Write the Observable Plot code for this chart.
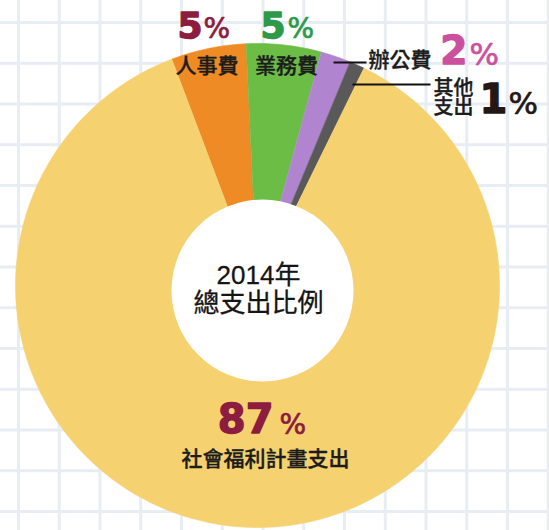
<!DOCTYPE html>
<html><head><meta charset="utf-8">
<script src="https://cdn.jsdelivr.net/npm/d3@7"></script>
<script src="https://cdn.jsdelivr.net/npm/@observablehq/plot@0.6"></script>
<style>
html,body{margin:0;padding:0;background:#fff;}
#chart svg{display:block;}
</style></head><body><div id="chart"></div>
<script>
// ---- data ----
const categories = ["人事費", "業務費", "辦公費", "其他支出", "社會福利計畫支出"];
const shares = [5, 5, 2, 1, 87];
const nameLabels = ["人事費", "業務費", "辦公費", "其他\n支出", "社會福利計畫支出"];
const centerTitle = ["2014年", "總支出比例"];

// ---- styles ----
const sliceColors = ["#ef8b25", "#6bbd45", "#b084cf", "#5a5959", "#f5d170"];
const valueColors = ["#8c1d40", "#2e9a48", "#cb519f", "#231816", "#8c1d40"];
const textColor = "#1c1c1c";
const cjkFont = "'Noto Sans CJK TC', 'Noto Sans CJK SC', sans-serif";
const numFont = "'DejaVu Sans', sans-serif";

// ---- layout ----
const W = 549, H = 530;
const pieGeom = {cx: 257, cy: 285, r: 242, startDeg: -20.7};
const hole = {cx: 262, cy: 290, r: 91};
const grid = {x0: 18, y0: 22, step: 40.75, width: 3, color: "#e7edf3"};
const nameLayout = [
  {x: 206.5, y: 66, anchor: "middle", size: 21},
  {x: 286, y: 66, anchor: "middle", size: 21},
  {x: 368, y: 60, anchor: "start", size: 21},
  {x: 433, y: 98, anchor: "start", size: 20},
  {x: 265, y: 459, anchor: "middle", size: 21}
];
const valueLayout = [
  {numX: 202, numAnchor: "end", numY: 25.5, numSize: 36, numScale: 1.3, pctStart: 203, pctY: 28.5, pctSize: 28},
  {numX: 285, numAnchor: "end", numY: 25.5, numSize: 36, numScale: 1.15, pctStart: 287, pctY: 28.5, pctSize: 28},
  {numX: 467, numAnchor: "end", numY: 51.5, numSize: 39, numScale: 1.25, pctStart: 469, pctY: 54.5, pctSize: 31},
  {numX: 479, numAnchor: "start", numY: 100, numSize: 40, numScale: 1.0, pctStart: 508, pctY: 103.5, pctSize: 31},
  {numX: 273, numAnchor: "end", numY: 420, numSize: 40, numScale: 1.0, pctStart: 279, pctY: 425, pctSize: 28}
];
const leaders = [
  {x1: 333, y1: 62, x2: 366, y2: 62},
  {x1: 352, y1: 84, x2: 430, y2: 84}
];
const centerLayout = [{x: 258, y: 275.5}, {x: 258, y: 303.5}];

// ---- build slices ----
const rows = categories.map((c, i) => ({cat: c, share: shares[i]}));
const a0 = pieGeom.startDeg * Math.PI / 180;
const arcs = d3.pie().sort(null).value(d => d.share).startAngle(a0).endAngle(a0 + 2 * Math.PI)(rows);
const slicePts = arcs.flatMap(a => {
  const n = Math.max(4, Math.ceil((a.endAngle - a.startAngle) / (Math.PI / 360)));
  const pts = [{cat: a.data.cat, x: pieGeom.cx, y: pieGeom.cy}];
  for (let i = 0; i <= n; i++) {
    const t = a.startAngle + (a.endAngle - a.startAngle) * i / n;
    pts.push({cat: a.data.cat, x: pieGeom.cx + pieGeom.r * Math.sin(t), y: pieGeom.cy - pieGeom.r * Math.cos(t)});
  }
  return pts;
});

const marks = [
  Plot.ruleX(d3.range(grid.x0, W, grid.step), {stroke: grid.color, strokeWidth: grid.width}),
  Plot.ruleY(d3.range(grid.y0, H, grid.step), {stroke: grid.color, strokeWidth: grid.width}),
  Plot.line(slicePts, {x: "x", y: "y", z: "cat", fill: "cat", stroke: "cat", strokeWidth: 0.6}),
  Plot.dot([hole], {x: "cx", y: "cy", r: hole.r, fill: "white", stroke: "none"}),
  Plot.link(leaders, {x1: "x1", y1: "y1", x2: "x2", y2: "y2", stroke: "#111", strokeWidth: 2})
];

nameLabels.forEach((t, i) => {
  const L = nameLayout[i];
  marks.push(Plot.text([t], {x: () => L.x, y: () => L.y, text: d => d, textAnchor: L.anchor,
    fontSize: L.size, fontFamily: cjkFont, fontWeight: 500, fill: textColor,
    stroke: textColor, strokeWidth: 0.35, lineHeight: 0.97}));
});
shares.forEach((v, i) => {
  const L = valueLayout[i];
  marks.push(Plot.text([String(v)], {x: () => L.numX, y: () => L.numY, text: d => d, textAnchor: L.numAnchor,
    fontSize: L.numSize, fontFamily: numFont, fontWeight: "bold", fill: valueColors[i],
    stroke: valueColors[i], strokeWidth: 1.4, ariaLabel: "pctnum-" + i}));
  marks.push(Plot.text(["%"], {x: () => L.pctStart, y: () => L.pctY, text: d => d, textAnchor: "start",
    fontSize: L.pctSize, fontFamily: numFont, fill: valueColors[i], stroke: valueColors[i], strokeWidth: 0.7}));
});
centerTitle.forEach((t, i) => {
  const L = centerLayout[i];
  marks.push(Plot.text([t], {x: () => L.x, y: () => L.y, text: d => d, textAnchor: "middle",
    fontSize: 26, fontFamily: "'Liberation Sans', " + cjkFont, fill: "#151515", stroke: "#151515", strokeWidth: 0.3}));
});

const chart = Plot.plot({
  width: W, height: H, margin: 0,
  x: {domain: [0, W], range: [0, W], axis: null},
  y: {domain: [0, H], range: [0, H], axis: null},
  color: {domain: categories, range: sliceColors},
  style: {background: "white", overflow: "visible"},
  marks
});
// widen the heavy percentage digits horizontally
valueLayout.forEach((L, i) => {
  if (L.numScale === 1) return;
  d3.select(chart).selectAll(`g[aria-label="pctnum-${i}"] text`).each(function() {
    const tr = this.getAttribute("transform") || "";
    this.setAttribute("transform", `${tr} scale(${L.numScale},1)`);
  });
});
document.getElementById("chart").appendChild(chart);
</script>
</body></html>
